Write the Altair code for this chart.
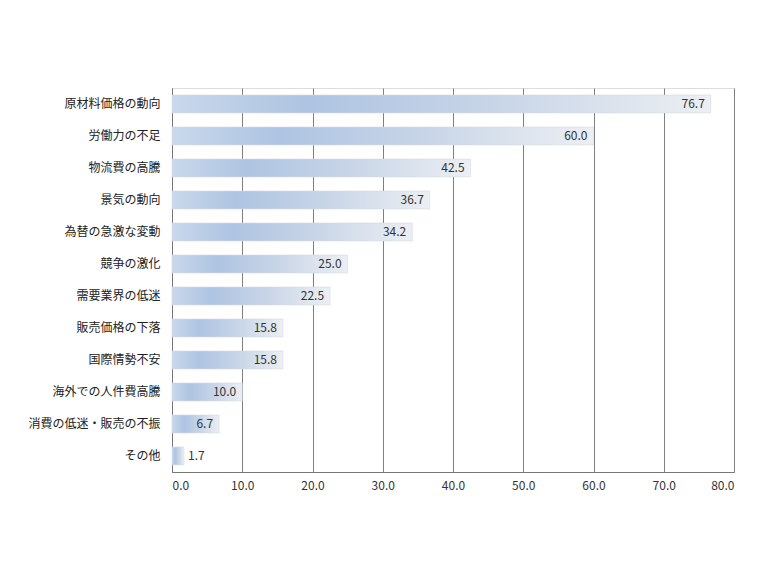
import altair as alt
import pandas as pd

categories = ["原材料価格の動向", "労働力の不足", "物流費の高騰", "景気の動向", "為替の急激な変動",
              "競争の激化", "需要業界の低迷", "販売価格の下落", "国際情勢不安", "海外での人件費高騰",
              "消費の低迷・販売の不振", "その他"]
values = [76.7, 60.0, 42.5, 36.7, 34.2, 25.0, 22.5, 15.8, 15.8, 10.0, 6.7, 1.7]
x_ticks = [0, 10, 20, 30, 40, 50, 60, 70, 80]

df = pd.DataFrame({"cat": categories, "v": values})

FONT = "Noto Sans CJK JP"

grad = alt.Gradient(
    gradient="linear", x1=0, x2=1, y1=0, y2=0,
    stops=[
        alt.GradientStop(offset=0, color="#c9d8ec"),
        alt.GradientStop(offset=0.25, color="#aec4e2"),
        alt.GradientStop(offset=0.6, color="#c8d5e8"),
        alt.GradientStop(offset=1, color="#eceff3"),
    ],
)

y_enc = alt.Y("cat:N", sort=categories, title=None,
              scale=alt.Scale(paddingInner=0.44, paddingOuter=0.22),
              axis=alt.Axis(labelFont=FONT, labelFontSize=12, labelColor="#222222",
                            labelPadding=12, ticks=False, domain=True, domainColor="#777777",
                            grid=False))
x_scale = alt.Scale(domain=[0, 80], nice=False)

bars = alt.Chart(df).mark_bar(color=grad, stroke="#d6dae0", strokeWidth=0.6).encode(
    x=alt.X("v:Q", scale=x_scale, title=None,
            axis=alt.Axis(values=x_ticks, format=".1f", labelFont=FONT, labelFontSize=12,
                          labelColor="#333333", labelPadding=8, ticks=False,
                          domainColor="#777777", gridColor="#808080", gridWidth=1)),
    y=y_enc,
)

texts = alt.Chart(df).transform_calculate(
    pos="datum.v < 4 ? 5.5 : datum.v"
).mark_text(align="right", baseline="middle", dx=-6, font=FONT, fontSize=12,
            color="#333333").encode(
    x=alt.X("pos:Q", scale=x_scale),
    y=alt.Y("cat:N", sort=categories),
    text=alt.Text("v:Q", format=".1f"),
)

chart = (bars + texts).properties(
    width=562, height=384,
    autosize=alt.AutoSizeParams(type="none"),
    padding={"left": 164, "top": 80, "right": 18, "bottom": 80},
).configure_view(stroke="#808080", strokeWidth=1).configure(background="white")

chart.save("out.html", embed_options={"renderer": "svg", "actions": False})
